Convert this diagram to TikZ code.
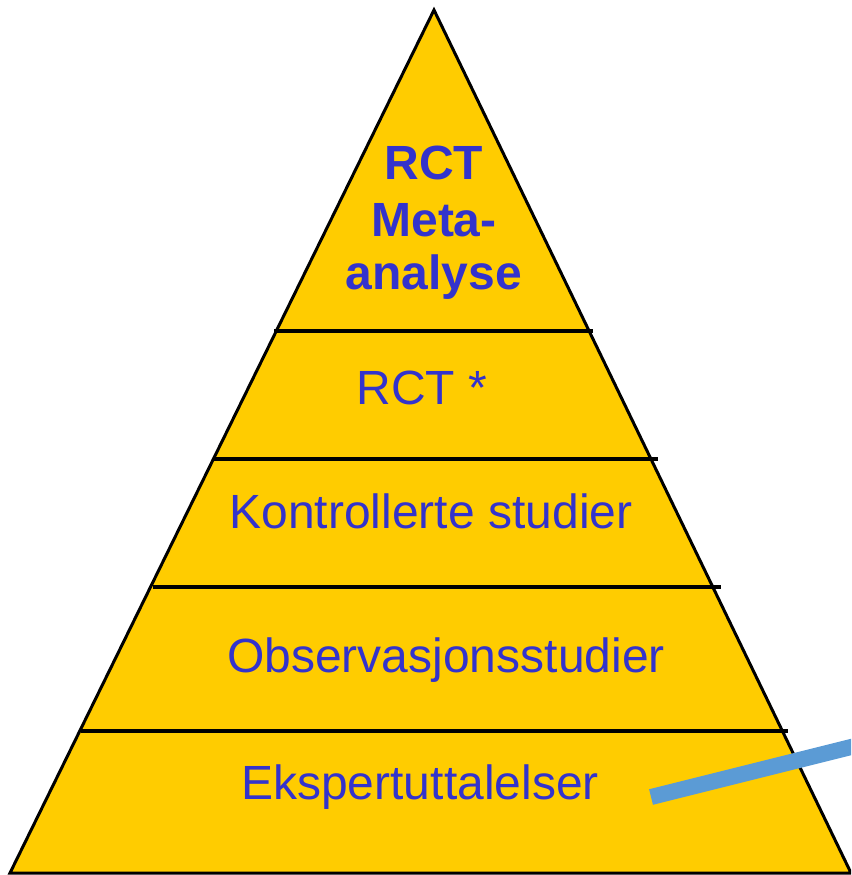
\documentclass[tikz,border=0pt]{standalone}
\usepackage{fontspec}
\setmainfont{Liberation Sans}
\definecolor{pyrfill}{HTML}{FFCC00}
\definecolor{pyrtext}{HTML}{3333CC}
\definecolor{pointer}{HTML}{5B9BD5}
\begin{document}
\begin{tikzpicture}[x=1pt,y=-1pt,
  level/.style={text=pyrtext,inner sep=0pt,anchor=base,font=\fontsize{48}{55}\selectfont},
  toplevel/.style={level,font=\fontsize{48}{55}\selectfont\bfseries},
  divider/.style={draw=black,line width=3.2pt},
  outline/.style={draw=black,line width=3pt,line join=miter,fill=pyrfill}]
\useasboundingbox (0,0) rectangle (851,875);
\begin{scope}
\clip (0,0) rectangle (851,875);
% pyramid body
\coordinate (apex) at (434,10);
\coordinate (baseL) at (10,873);
\coordinate (baseR) at (851,873);
\draw[outline] (apex) -- (baseL) -- (baseR) -- cycle;
% level dividers
\coordinate (d1l) at (274,331); \coordinate (d1r) at (593,331);
\coordinate (d2l) at (213,459); \coordinate (d2r) at (658,459);
\coordinate (d3l) at (153,587); \coordinate (d3r) at (721,587);
\coordinate (d4l) at (81,731);  \coordinate (d4r) at (788,731);
\draw[divider] (d1l) -- (d1r);
\draw[divider] (d2l) -- (d2r);
\draw[divider] (d3l) -- (d3r);
\draw[divider] (d4l) -- (d4r);
% level labels
\node[toplevel] (t1) at (434,179) {RCT};
\node[toplevel] (t2) at (434,236) {Meta-};
\node[toplevel] (t3) at (434,289) {analyse};
\node[level] (rct) at (422,404) {RCT *};
\node[level] (kontr) at (431,528) {Kontrollerte studier};
\node[level] (obs) at (446,672) {Observasjonsstudier};
\node[level] (eksp) at (420,799) {Ekspertuttalelser};
% pointer bar
\coordinate (ptrA) at (651,797);
\coordinate (ptrB) at (871,742);
\draw[draw=pointer,line width=16pt] (ptrA) -- (ptrB);
\end{scope}
\end{tikzpicture}
\end{document}
